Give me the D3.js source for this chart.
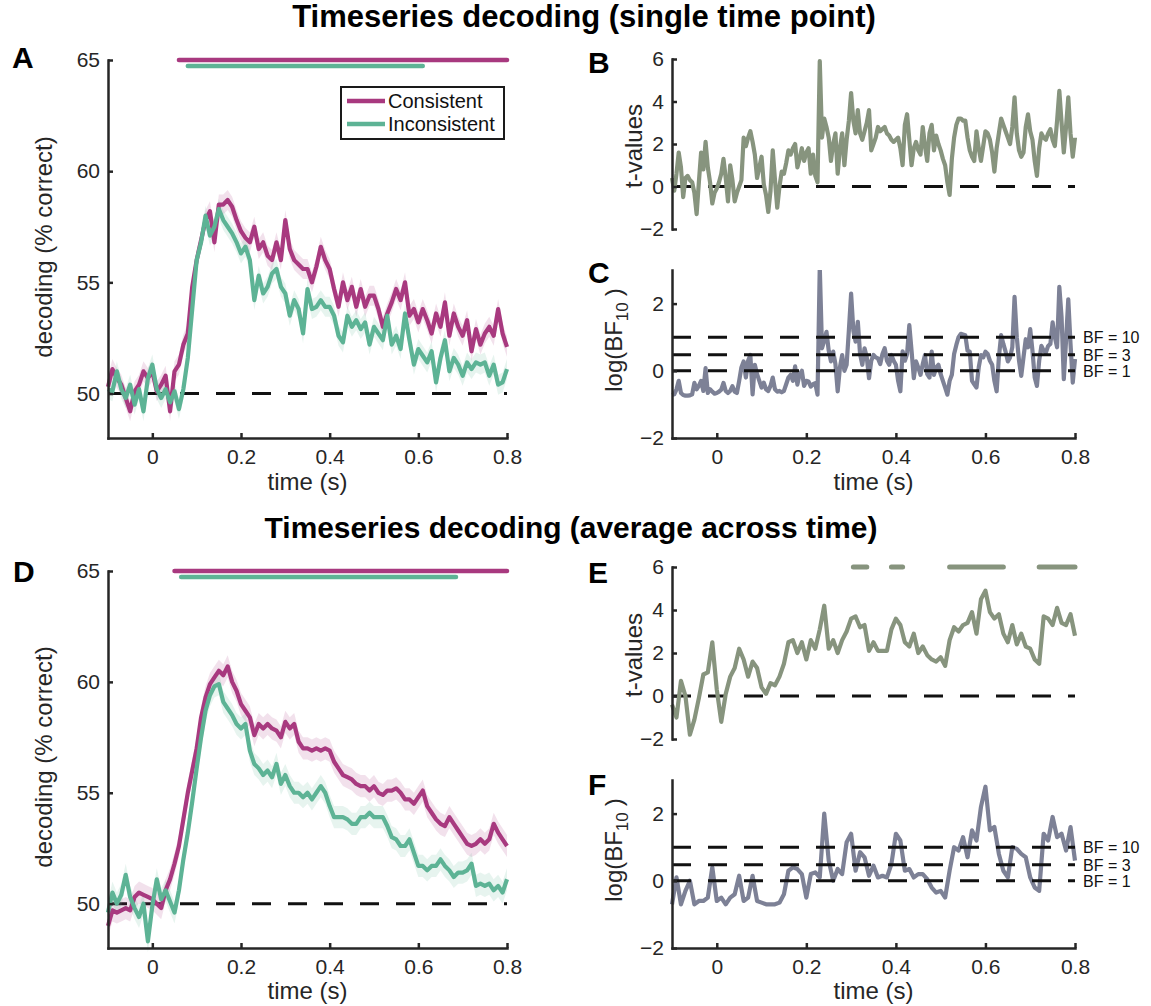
<!DOCTYPE html>
<html>
<head>
<meta charset="utf-8">
<title>Timeseries decoding</title>
<script src="https://cdn.jsdelivr.net/npm/d3@7/dist/d3.min.js"></script>
<style>
  html, body { margin: 0; padding: 0; background: #ffffff; }
  svg { display: block; }
  text { font-family: "Liberation Sans", Arial, Helvetica, sans-serif; }
</style>
</head>
<body>
<svg id="figure" width="1151" height="1006"></svg>
<script>
// ---------------- data ----------------
const timeStart = -0.1;
const timeEnd = 0.8;
const coarseStep = 0.01;   // accuracy curves, averaged t / BF curves
const fineStep = 0.005;    // single-time-point t / BF curves

const conditionNames = ["Consistent", "Inconsistent"];

// Single time point: decoding accuracy (% correct), one value per 10 ms
const singleConsistent = [
  50.3, 51.1, 50.7, 50.4, 49.8, 49.2, 50.1, 50.4, 51.0, 50.7,
  51.0, 50.1, 50.4, 50.8, 49.2, 51.0, 51.3, 52.2, 52.7, 54.8,
  56.0, 56.9, 57.8, 58.2, 56.8, 58.5, 58.5, 58.7, 58.4, 57.8,
  57.3, 57.0, 56.8, 57.5, 56.5, 56.8, 56.2, 56.0, 56.8, 56.0,
  57.8, 56.5, 56.0, 55.8, 55.6, 55.6, 55.0, 55.7, 56.6, 56.0,
  55.6, 54.7, 53.9, 55.0, 54.2, 54.8, 53.9, 54.7, 53.9, 54.4,
  54.4, 53.8, 53.0, 53.6, 54.1, 54.7, 54.2, 55.0, 53.5, 53.8,
  53.2, 53.8, 53.3, 52.7, 53.6, 53.0, 54.1, 52.6, 53.6, 53.0,
  52.6, 53.3, 51.9, 52.9, 52.2, 52.7, 53.0, 52.6, 53.8, 52.7,
  52.1
];
const singleInconsistent = [
  50.2, 50.1, 51.0, 50.2, 49.8, 50.4, 49.5, 50.2, 49.2, 50.7,
  51.3, 50.2, 49.8, 50.2, 49.6, 50.1, 49.3, 50.2, 51.6, 53.8,
  56.0, 56.8, 58.0, 57.1, 57.5, 58.3, 57.8, 57.5, 57.2, 56.8,
  56.3, 56.6, 56.0, 54.2, 55.3, 54.5, 54.8, 55.4, 55.6, 54.8,
  54.5, 53.5, 54.2, 53.8, 52.7, 54.7, 53.8, 53.9, 54.2, 53.9,
  53.9, 53.5, 52.6, 52.3, 53.5, 53.0, 53.3, 52.9, 53.2, 52.2,
  53.0, 52.7, 52.4, 53.5, 52.2, 52.6, 52.0, 53.6, 52.4, 51.3,
  52.0, 51.7, 51.4, 51.9, 50.5, 51.6, 52.4, 51.0, 51.6, 51.3,
  50.8, 51.4, 51.1, 51.4, 51.3, 51.4, 50.8, 51.3, 50.4, 50.5,
  51.1
];
const singleSem = [0.45, 0.45];

// Single time point: t-values (consistent vs inconsistent), one value per 5 ms
const singleTValues = [
  0.4, -0.2, 0.6, 1.6, 0.9, -0.5, 0.4, 0.5, 0.3, 0.2, -0.3, -1.3, 0.2, 1.6, 0.8, 2.1, 0.9, 0.2, -0.8, -0.3,
  -0.1, 0.2, 0.6, 1.3, 0.4, -0.7, 1.0, 0.3, -0.7, -0.3, 0.0, 0.3, 2.3, 1.9, 2.3, 2.6, 2.1, 1.5, 0.4, 0.9,
  1.4, 0.1, -0.4, -1.2, -0.2, 1.7, 0.3, -1.0, 0.0, 0.7, 0.6, 1.1, 1.7, 1.5, 1.8, 2.0, 0.9, 1.3, 1.8, 1.2,
  1.6, 1.8, 0.6, 1.5, 0.5, 0.2, 5.9, 2.3, 3.2, 2.8, 2.3, 1.2, 2.0, 2.5, 0.6, 1.8, 2.5, 1.0, 2.2, 3.1,
  4.4, 3.1, 2.5, 3.6, 2.5, 2.2, 2.6, 3.0, 3.6, 1.7, 2.0, 2.3, 2.8, 2.6, 2.7, 2.8, 2.5, 2.4, 2.2, 2.1,
  2.2, 2.3, 1.8, 1.0, 2.9, 3.4, 2.2, 1.0, 1.8, 2.1, 1.7, 1.5, 2.8, 1.9, 1.2, 2.5, 2.9, 1.7, 2.4, 2.0,
  1.7, 1.3, 1.0, 0.2, -0.4, 1.3, 2.3, 2.9, 3.2, 3.2, 3.1, 3.1, 2.3, 1.7, 1.4, 1.2, 2.6, 1.8, 1.2, 1.9,
  2.6, 2.5, 2.2, 1.6, 0.7, 1.8, 2.5, 3.2, 2.9, 2.6, 2.3, 2.0, 2.8, 4.2, 2.5, 1.7, 1.4, 1.6, 2.8, 3.4,
  2.6, 2.2, 1.2, 0.5, 1.8, 2.5, 2.3, 2.2, 2.5, 2.7, 2.2, 1.9, 3.1, 4.5, 3.0, 1.6, 2.8, 4.2, 2.5, 1.4,
  2.3
];

// Single time point: log10 Bayes factor, one value per 5 ms
const singleLogBF = [
  -0.72, -0.70, -0.55, -0.30, -0.66, -0.72, -0.74, -0.74, -0.73, -0.70, -0.36, -0.55, -0.45, -0.30, -0.60, 0.08, -0.66, -0.55, -0.62, -0.68,
  -0.66, -0.62, -0.56, -0.36, -0.60, -0.66, -0.60, -0.46, -0.62, -0.66, -0.30, 0.10, 0.28, -0.20, 0.30, 0.47, -0.70, 0.18, -0.10, -0.30,
  -0.50, -0.35, -0.55, -0.60, -0.45, -0.20, -0.55, -0.62, -0.60, -0.64, -0.60, -0.40, -0.20, -0.12, -0.30, 0.13, -0.41, -0.10, 0.00, -0.45,
  -0.30, -0.32, -0.47, -0.40, -0.37, -0.71, 3.10, 0.67, 0.90, 1.16, 0.60, 0.28, 0.57, 0.20, -0.61, 0.10, 0.47, 0.00, 0.18, 1.20,
  2.30, 1.20, 0.87, 1.46, 0.50, 0.18, 0.67, 0.40, -0.22, 0.30, 0.47, 0.40, 0.37, 0.20, 0.50, 0.67, 0.30, 0.18, 0.47, 0.30,
  0.18, -0.30, -0.61, 0.58, 0.30, 0.50, 1.36, 0.60, -0.22, 0.28, 0.10, -0.12, 0.20, 0.47, -0.10, -0.20, 0.57, -0.12, 0.10, 0.18,
  -0.10, -0.30, -0.50, -0.71, -0.30, -0.12, 0.50, 0.77, 1.00, 1.10, 1.08, 1.06, 0.60, 0.57, -0.30, -0.40, -0.50, 0.10, 0.47, 0.40,
  0.57, 0.50, 0.30, 0.18, -0.30, -0.61, 0.40, 1.06, 0.80, 0.57, 0.28, 0.40, 0.70, 2.20, 1.00, 0.30, -0.15, 0.40, 0.94, 0.70,
  1.24, 0.60, -0.20, -0.45, 0.30, 0.74, 0.60, 0.54, 0.74, 0.80, 1.44, 1.00, 0.70, 2.50, 1.60, -0.25, 0.90, 2.13, 0.80, -0.35,
  0.35
];

const singleSigStart = [0.06, 0.08];
const singleSigEnd = [0.80, 0.61];
const singleSigLevel = [65, 64.73];

// Average across time: decoding accuracy (% correct), one value per 10 ms
const averageConsistent = [
  49.0, 49.7, 49.6, 49.7, 49.8, 49.7, 50.3, 50.5, 50.4, 50.3,
  50.2, 50.0, 49.8, 50.6, 51.1, 51.8, 52.6, 53.8, 55.0, 56.0,
  57.0, 58.4, 59.3, 59.9, 60.2, 60.5, 60.3, 60.7, 60.0, 59.6,
  59.0, 58.7, 58.4, 57.6, 58.1, 57.9, 58.1, 57.9, 57.8, 57.5,
  58.2, 57.9, 58.1, 57.3, 57.0, 57.0, 56.9, 57.0, 56.9, 57.0,
  56.9, 56.4, 56.1, 55.8, 55.7, 55.6, 55.4, 55.3, 55.3, 55.1,
  55.3, 55.0, 54.9, 55.1, 55.1, 55.2, 55.0, 54.7, 54.7, 54.5,
  54.8, 55.1, 54.4, 54.1, 53.8, 53.6, 53.5, 53.9, 53.6, 53.3,
  53.0, 52.7, 52.6, 52.7, 52.9, 52.7, 52.9, 53.6, 53.2, 52.9,
  52.6
];
const averageInconsistent = [
  49.6, 50.5, 50.0, 50.4, 51.3, 50.3, 49.8, 49.4, 50.0, 48.3,
  49.9, 51.1, 50.2, 50.6, 50.1, 49.6, 50.6, 52.0, 53.2, 54.6,
  56.1, 57.5, 58.7, 59.4, 59.8, 59.9, 59.1, 58.8, 58.5, 58.1,
  57.9, 58.1, 56.9, 56.3, 56.1, 55.8, 56.0, 55.7, 56.3, 55.4,
  55.8, 55.3, 55.0, 55.0, 54.8, 55.0, 54.7, 55.0, 55.3, 55.0,
  54.4, 53.9, 53.9, 53.9, 53.8, 53.6, 53.6, 53.9, 53.9, 54.1,
  53.9, 53.9, 53.9, 53.5, 53.0, 52.9, 52.6, 52.6, 52.9, 52.3,
  51.7, 51.7, 51.5, 51.7, 51.7, 52.0, 51.7, 51.5, 51.2, 51.4,
  51.4, 51.5, 51.8, 50.8, 50.9, 50.8, 50.9, 50.6, 50.8, 50.5,
  51.1
];
const averageSem = [0.5, 0.5];

// Average across time: t-values, one value per 10 ms
const averageTValues = [
  -0.4, -1.0, 0.7, 0.0, -1.8, -1.1, -0.1, 1.0, 1.1, 2.5,
  0.3, -1.2, 0.1, 0.9, 1.3, 2.2, 1.7, 0.9, 1.6, 1.3,
  0.4, 0.1, 0.6, 0.5, 0.9, 1.5, 2.5, 2.6, 2.0, 2.5,
  1.7, 2.6, 2.2, 3.1, 4.2, 2.2, 2.6, 2.0, 2.6, 3.0,
  3.6, 3.7, 3.2, 3.3, 2.1, 2.5, 2.1, 2.1, 2.1, 3.1,
  3.6, 3.3, 2.5, 2.3, 2.9, 2.0, 2.3, 1.9, 1.7, 1.6,
  1.8, 1.4, 2.6, 3.2, 3.0, 3.3, 3.4, 3.9, 2.9, 4.5,
  4.9, 3.9, 3.6, 3.8, 2.9, 2.5, 3.3, 2.4, 2.9, 2.3,
  2.2, 1.7, 1.5, 3.7, 3.6, 3.3, 4.1, 3.4, 3.3, 3.8,
  2.8
];

// Average across time: log10 Bayes factor, one value per 10 ms
const averageLogBF = [
  -0.7, 0.1, -0.7, -0.3, 0.0, -0.7, -0.6, -0.6, -0.5, 0.4,
  -0.6, -0.5, -0.7, -0.5, -0.4, 0.15, -0.6, -0.5, 0.15, -0.6,
  -0.65, -0.7, -0.7, -0.7, -0.65, -0.4, 0.3, 0.4, 0.35, 0.2,
  -0.5, 0.2, 0.25, 0.1, 2.0, 0.6, 0.0, 0.35, 0.2, 1.15,
  1.4, 0.3, 0.85, 0.7, 0.15, 0.45, 0.1, 0.15, 0.1, 0.5,
  1.4, 1.2, 0.3, 0.35, 0.1, 0.2, 0.2, 0.05, -0.2, -0.35,
  -0.3, -0.5, 0.3, 1.0, 0.9, 1.3, 0.7, 1.5, 1.2, 2.2,
  2.8, 1.5, 1.6, 0.8, 0.3, 0.1, 1.0, 0.95, 0.8, 0.7,
  0.1, -0.2, -0.3, 1.4, 1.2, 1.9, 1.3, 1.4, 0.9, 1.6,
  0.6
];

const averageSigStart = [0.05, 0.065];
const averageSigEnd = [0.80, 0.685];
const averageSigLevel = [65, 64.73];
const averageTSigStart = [0.305, 0.39, 0.52, 0.72];
const averageTSigEnd = [0.335, 0.415, 0.64, 0.80];
const averageTSigLevel = 6;

const timeTicks = [0, 0.2, 0.4, 0.6, 0.8];
const accuracyTicks = [50, 55, 60, 65];
const tTicks = [-2, 0, 2, 4, 6];
const bfTicks = [-2, 0, 2];
const bfThresholds = [10, 3, 1];
const bfLabels = ["BF = 10", "BF = 3", "BF = 1"];
const chanceLevel = 50;
const accuracyDomain = [48, 65];
const tDomain = [-2, 6];
const bfDomain = [-2, 3];

const titles = [
  "Timeseries decoding (single time point)",
  "Timeseries decoding (average across time)"
];

// ---------------- styling ----------------
const conditionColors = ["#a8397f", "#5db395"];
const tColor = "#87947e";
const bfColor = "#7d8196";
const axisColor = "#262626";
const dashPattern = "19,17";
const dataWidth = 4.2;

const svg = d3.select("#figure");

const timeOf = (values, step) => values.map((_, i) => timeStart + i * step);
const timeFormat = d => (d === 0 ? "0" : d3.format(".1f")(d));

let clipCount = 0;
function clipFor(x, y) {
  const id = "clip" + (clipCount++);
  svg.append("clipPath").attr("id", id).append("rect")
    .attr("x", x.range()[0] - 3).attr("y", y.range()[1])
    .attr("width", x.range()[1] - x.range()[0] + 6)
    .attr("height", y.range()[0] - y.range()[1] + 4);
  return `url(#${id})`;
}

function styleAxis(g, fontSize) {
  g.attr("color", axisColor)
    .attr("font-family", '"Liberation Sans", Arial, sans-serif')
    .attr("font-size", fontSize);
  g.selectAll("path.domain").attr("stroke-width", 2.5).attr("stroke-linecap", "square");
  g.selectAll(".tick line").attr("stroke-width", 2.5);
  g.selectAll(".tick text").attr("fill", axisColor);
}

function drawYAxis(x, y, ticks) {
  const g = svg.append("g")
    .attr("transform", `translate(${x.range()[0]},0)`)
    .call(d3.axisLeft(y).tickValues(ticks).tickSizeInner(-5).tickSizeOuter(0)
      .tickPadding(8).tickFormat(d3.format("d")));
  styleAxis(g, 21);
}

function drawXAxis(x, y) {
  const g = svg.append("g")
    .attr("transform", `translate(0,${y.range()[0]})`)
    .call(d3.axisBottom(x).tickValues(timeTicks).tickSizeInner(-5).tickSizeOuter(0)
      .tickPadding(11).tickFormat(timeFormat));
  styleAxis(g, 21);
}

function dashedLevel(x, y, level) {
  svg.append("line")
    .attr("x1", x(timeStart)).attr("x2", x(timeEnd))
    .attr("y1", y(level)).attr("y2", y(level))
    .attr("stroke", "#111").attr("stroke-width", 3)
    .attr("stroke-dasharray", dashPattern);
}

function panelLetter(letter, px, py) {
  svg.append("text").attr("x", px).attr("y", py)
    .attr("font-size", 30).attr("font-weight", "bold").attr("fill", "#000")
    .text(letter);
}

function yTitle(cx, cy, build) {
  const t = svg.append("text")
    .attr("transform", `translate(${cx},${cy}) rotate(-90)`)
    .attr("text-anchor", "middle").attr("font-size", 24).attr("fill", axisColor);
  build(t);
}

function xTitle(x, baseline) {
  svg.append("text")
    .attr("x", (x.range()[0] + x.range()[1]) / 2).attr("y", baseline)
    .attr("text-anchor", "middle").attr("font-size", 24).attr("fill", axisColor)
    .text("time (s)");
}

// Decoding accuracy panel (A, D)
function accuracyPanel(box, series, sem, sigStart, sigEnd, sigLevel, withLegend) {
  const x = d3.scaleLinear().domain([timeStart, timeEnd]).range([box.left, box.right]);
  const y = d3.scaleLinear().domain(accuracyDomain).range([box.bottom, box.top]);
  const clip = clipFor(x, y);

  dashedLevel(x, y, chanceLevel);

  const layer = svg.append("g").attr("clip-path", clip);
  series.forEach((vals, k) => {
    const t = timeOf(vals, coarseStep);
    const band = d3.area()
      .x((d, i) => x(t[i]))
      .y0(d => y(d - sem[k]))
      .y1(d => y(d + sem[k]));
    layer.append("path").datum(vals).attr("d", band)
      .attr("fill", conditionColors[k]).attr("fill-opacity", 0.15);
  });
  series.forEach((vals, k) => {
    const t = timeOf(vals, coarseStep);
    const line = d3.line().x((d, i) => x(t[i])).y(d => y(d));
    layer.append("path").datum(vals).attr("d", line)
      .attr("fill", "none").attr("stroke", conditionColors[k])
      .attr("stroke-width", dataWidth).attr("stroke-linejoin", "round");
  });

  sigStart.forEach((s, k) => {
    svg.append("line")
      .attr("x1", x(s)).attr("x2", x(sigEnd[k]))
      .attr("y1", y(sigLevel[k])).attr("y2", y(sigLevel[k]))
      .attr("stroke", conditionColors[k]).attr("stroke-width", 4.5)
      .attr("stroke-linecap", "round");
  });

  drawYAxis(x, y, accuracyTicks);
  drawXAxis(x, y);

  if (withLegend) {
    const lg = svg.append("g").attr("transform", "translate(341,87)");
    lg.append("rect").attr("width", 163).attr("height", 52)
      .attr("fill", "#fff").attr("stroke", "#1a1a1a").attr("stroke-width", 2);
    conditionNames.forEach((name, k) => {
      const cy = 14 + k * 23;
      lg.append("line").attr("x1", 6).attr("x2", 44).attr("y1", cy).attr("y2", cy)
        .attr("stroke", conditionColors[k]).attr("stroke-width", 4.5);
      lg.append("text").attr("x", 47).attr("y", cy + 7)
        .attr("font-size", 20).attr("fill", "#111").text(name);
    });
  }
  return { x, y };
}

// t-value panel (B, E)
function tPanel(box, values, step, sigStart, sigEnd, sigLevel) {
  const x = d3.scaleLinear().domain([timeStart, timeEnd]).range([box.left, box.right]);
  const y = d3.scaleLinear().domain(tDomain).range([box.bottom, box.top]);
  const clip = clipFor(x, y);
  dashedLevel(x, y, 0);
  const t = timeOf(values, step);
  svg.append("g").attr("clip-path", clip).append("path").datum(values)
    .attr("d", d3.line().x((d, i) => x(t[i])).y(d => y(d)))
    .attr("fill", "none").attr("stroke", tColor).attr("stroke-width", dataWidth)
    .attr("stroke-linejoin", "round");
  if (sigStart) {
    sigStart.forEach((s, k) => {
      svg.append("line")
        .attr("x1", x(s)).attr("x2", x(sigEnd[k]))
        .attr("y1", y(sigLevel)).attr("y2", y(sigLevel))
        .attr("stroke", tColor).attr("stroke-width", 5).attr("stroke-linecap", "round");
    });
  }
  drawYAxis(x, y, tTicks);
  return { x, y };
}

// Bayes factor panel (C, F)
function bfPanel(box, values, step) {
  const x = d3.scaleLinear().domain([timeStart, timeEnd]).range([box.left, box.right]);
  const y = d3.scaleLinear().domain(bfDomain).range([box.bottom, box.top]);
  const clip = clipFor(x, y);
  const t = timeOf(values, step);
  svg.append("g").attr("clip-path", clip).append("path").datum(values)
    .attr("d", d3.line().x((d, i) => x(t[i])).y(d => y(d)))
    .attr("fill", "none").attr("stroke", bfColor).attr("stroke-width", dataWidth)
    .attr("stroke-linejoin", "round");
  bfThresholds.forEach((bf, k) => {
    dashedLevel(x, y, Math.log10(bf));
    svg.append("text")
      .attr("x", box.right + 8).attr("y", y(Math.log10(bf)))
      .attr("dy", "0.36em").attr("font-size", 16).attr("fill", "#111")
      .text(bfLabels[k]);
  });
  drawYAxis(x, y, bfTicks);
  drawXAxis(x, y);
  return { x, y };
}

// ---------------- figure ----------------
titles.forEach((title, k) => {
  const centers = [584, 571];
  const widths = [584, 613];
  const baselines = [27, 538];
  const tx = svg.append("text")
    .attr("x", centers[k]).attr("y", baselines[k])
    .attr("text-anchor", "middle")
    .attr("font-family", "Lato, 'Open Sans', sans-serif")
    .attr("font-weight", "bold").attr("font-size", 28).attr("fill", "#000")
    .text(title);
  const w = tx.node().getComputedTextLength();
  tx.attr("font-size", 28 * widths[k] / w);
});

// Row 1: single time point
const pA = accuracyPanel({ left: 108, right: 507, top: 60, bottom: 438 },
  [singleConsistent, singleInconsistent], singleSem,
  singleSigStart, singleSigEnd, singleSigLevel, true);
panelLetter("A", 12, 68);
yTitle(52, 247, t => t.text("decoding (% correct)"));
xTitle(pA.x, 490);

tPanel({ left: 672, right: 1075, top: 59, bottom: 229 }, singleTValues, fineStep);
panelLetter("B", 588, 73);
yTitle(642, 146, t => t.text("t-values"));

const pC = bfPanel({ left: 672, right: 1075, top: 270, bottom: 438 }, singleLogBF, fineStep);
panelLetter("C", 588, 283);
yTitle(622, 340, t => {
  t.append("tspan").text("log(BF");
  t.append("tspan").attr("font-size", 17).attr("dy", 6).text("10");
  t.append("tspan").attr("dy", -6).attr("dx", 6).text(")");
});
xTitle(pC.x, 490);

// Row 2: average across time
const pD = accuracyPanel({ left: 108, right: 507, top: 571, bottom: 948 },
  [averageConsistent, averageInconsistent], averageSem,
  averageSigStart, averageSigEnd, averageSigLevel, false);
panelLetter("D", 13, 582);
yTitle(52, 757, t => t.text("decoding (% correct)"));
xTitle(pD.x, 999);

tPanel({ left: 672, right: 1075, top: 567, bottom: 739 }, averageTValues, coarseStep,
  averageTSigStart, averageTSigEnd, averageTSigLevel);
panelLetter("E", 588, 583);
yTitle(642, 655, t => t.text("t-values"));

const pF = bfPanel({ left: 672, right: 1075, top: 780, bottom: 948 }, averageLogBF, coarseStep);
panelLetter("F", 588, 795);
yTitle(622, 850, t => {
  t.append("tspan").text("log(BF");
  t.append("tspan").attr("font-size", 17).attr("dy", 6).text("10");
  t.append("tspan").attr("dy", -6).attr("dx", 6).text(")");
});
xTitle(pF.x, 999);
</script>
</body>
</html>
